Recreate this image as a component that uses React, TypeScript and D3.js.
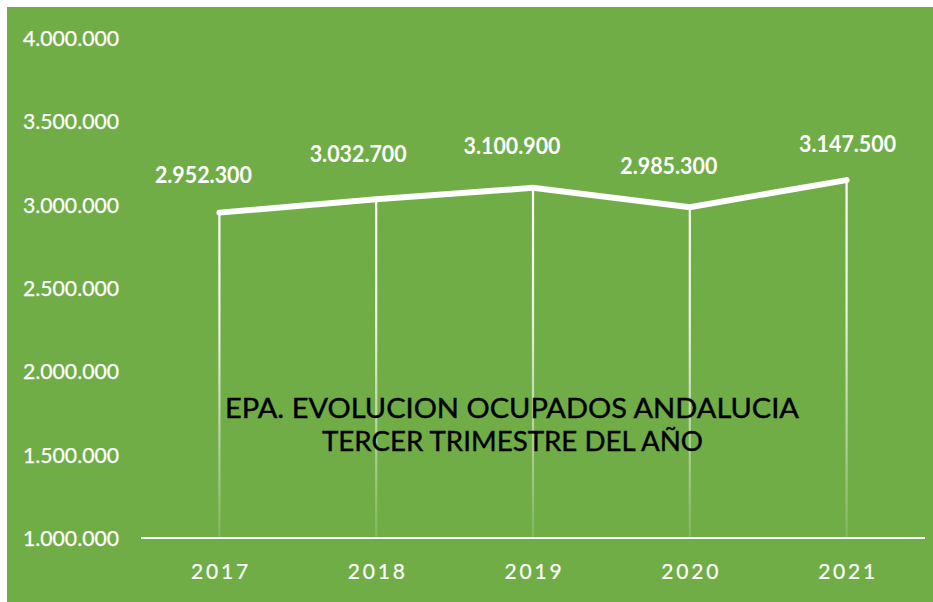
import React from "react";
import * as d3 from "d3";

const years = ["2017", "2018", "2019", "2020", "2021"];
const ocupados = [2952300, 3032700, 3100900, 2985300, 3147500];
const yTicks = [1000000, 1500000, 2000000, 2500000, 3000000, 3500000, 4000000];
const titleLines = ["EPA. EVOLUCION OCUPADOS ANDALUCIA", "TERCER TRIMESTRE DEL AÑO"];

const W = 933;
const H = 602;
const FONT = "Lato, 'Open Sans', sans-serif";

// manual label nudges (as placed in the original chart)
const labelDx = [-16, -18, -21, -21, 1];
const labelDy = [-38, -46, -42, -42, -37];

const fmt = (v: number) => d3.format(",")(v).replace(/,/g, ".");

export default function App() {
  const x = d3.scaleBand<string>().domain(years).range([141, 925]);
  const y = d3.scaleLinear().domain([1000000, 4000000]).range([538, 38]);
  const cx = (d: string) => (x(d) as number) + x.bandwidth() / 2;

  const pts: [number, number][] = years.map((yr, i) => [cx(yr), y(ocupados[i])]);
  const line = d3.line<[number, number]>().x((p) => p[0]).y((p) => p[1]);

  return (
    <svg
      width={W}
      height={H}
      style={{ position: "absolute", left: 0, top: 0 }}
      fontFamily={FONT}
    >
      <defs>
        {pts.map((p, i) => (
          <linearGradient
            key={i}
            id={`drop${i}`}
            gradientUnits="userSpaceOnUse"
            x1={0}
            y1={p[1]}
            x2={0}
            y2={y(1000000)}
          >
            <stop offset="0" stopColor="#ffffff" stopOpacity={1} />
            <stop offset="0.35" stopColor="#ffffff" stopOpacity={0.85} />
            <stop offset="1" stopColor="#ffffff" stopOpacity={0.12} />
          </linearGradient>
        ))}
      </defs>
      <rect x={0} y={0} width={W} height={H} fill="#ffffff" />
      <rect x={7} y={7} width={W - 7} height={H - 7} fill="#70AD47" />

      {/* y tick labels */}
      {yTicks.map((t) => (
        <text
          key={t}
          x={119}
          y={y(t)}
          textAnchor="end"
          dominantBaseline="central"
          fill="#ffffff"
          fontSize={21.5}
          textLength={96}
          lengthAdjust="spacingAndGlyphs"
          stroke="#ffffff"
          strokeWidth={0.25}
        >
          {fmt(t)}
        </text>
      ))}

      {/* drop lines */}
      {pts.map((p, i) => (
        <line
          key={i}
          x1={p[0]}
          x2={p[0]}
          y1={p[1]}
          y2={y(1000000)}
          stroke={`url(#drop${i})`}
          strokeWidth={2.2}
        />
      ))}

      {/* x axis */}
      <line x1={141} x2={925} y1={y(1000000)} y2={y(1000000)} stroke="#ffffff" strokeWidth={2} />
      {years.map((yr) => (
        <text
          key={yr}
          x={cx(yr) + 1.5}
          y={570}
          textAnchor="middle"
          dominantBaseline="central"
          fill="#ffffff"
          fontSize={21}
          letterSpacing={2.8}
          stroke="#ffffff"
          strokeWidth={0.2}
        >
          {yr}
        </text>
      ))}

      {/* series line */}
      <path
        d={line(pts) || ""}
        fill="none"
        stroke="#ffffff"
        strokeWidth={6}
        strokeLinecap="round"
        strokeLinejoin="miter"
      />

      {/* data labels */}
      {pts.map((p, i) => (
        <text
          key={i}
          x={p[0] + labelDx[i]}
          y={p[1] + labelDy[i]}
          textAnchor="middle"
          dominantBaseline="central"
          fill="#ffffff"
          fontSize={22}
          fontWeight="bold"
          textLength={97}
          lengthAdjust="spacingAndGlyphs"
        >
          {fmt(ocupados[i])}
        </text>
      ))}

      {/* title */}
      <text
        x={512}
        y={407}
        textAnchor="middle"
        dominantBaseline="central"
        fill="#000000"
        fontSize={27}
        textLength={574}
        lengthAdjust="spacingAndGlyphs"
        stroke="#000000"
        strokeWidth={0.4}
      >
        {titleLines[0]}
      </text>
      <text
        x={512.5}
        y={440}
        textAnchor="middle"
        dominantBaseline="central"
        fill="#000000"
        fontSize={27}
        textLength={381}
        lengthAdjust="spacingAndGlyphs"
        stroke="#000000"
        strokeWidth={0.4}
      >
        {titleLines[1]}
      </text>
    </svg>
  );
}
